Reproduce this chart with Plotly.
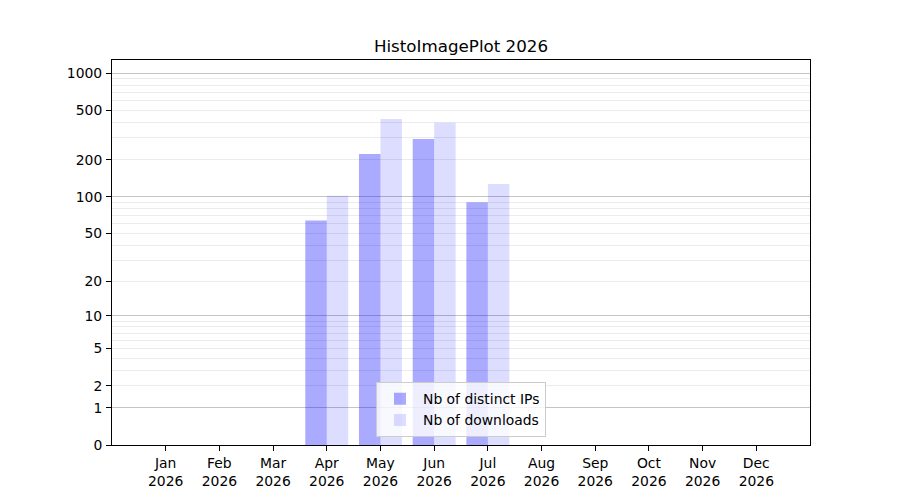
import numpy as np
import plotly.graph_objs as go

# monthly stats
months = ["Jan", "Feb", "Mar", "Apr", "May", "Jun", "Jul", "Aug", "Sep", "Oct", "Nov", "Dec"]
year = "2026"
distinct_ips = [0, 0, 0, 64, 222, 294, 90, 0, 0, 0, 0, 0]
downloads = [0, 0, 0, 102, 427, 398, 127, 0, 0, 0, 0, 0]

y_labels = [0, 1, 2, 5, 10, 20, 50, 100, 200, 500, 1000]
y_major = [1, 10, 100, 1000]
y_minor = [m * d for d in (1, 10, 100) for m in range(2, 10)]
y_top = 1280


def tr(v):
    # log(1 + x) scale, so that 0 sits on the axis
    return np.log10(1 + np.asarray(v, dtype=float))


x_labels = [m + "<br>" + year for m in months]
font = dict(family="DejaVu Sans", size=13.9, color="black")

ip_bars = go.Bar(x=x_labels, y=tr(distinct_ips), name="Nb of distinct IPs",
                 marker=dict(color="rgba(0,0,255,0.333)", line=dict(width=0)),
                 offset=-0.4, width=0.4)
dl_bars = go.Bar(x=x_labels, y=tr(downloads), name="Nb of downloads", yaxis="y2",
                 marker=dict(color="rgba(0,0,255,0.133)", line=dict(width=0)),
                 offset=0, width=0.4)

fig = go.Figure(data=[ip_bars, dl_bars])
# page body has an 8px margin, so margins are shifted to compensate
fig.update_layout(
    width=900, height=500,
    margin=dict(l=104, r=98, t=52, b=63),
    paper_bgcolor="white", plot_bgcolor="white",
    font=font,
    barmode="overlay",
    title=dict(text="HistoImagePlot 2026", x=453 / 900, xanchor="center",
               y=1 - 38 / 500, yanchor="middle", yref="container",
               font=dict(family="DejaVu Sans", size=16.7, color="black")),
    xaxis=dict(type="category", range=[-1, 12], tickmode="array", tickvals=x_labels,
               ticks="outside", ticklen=5, tickcolor="black", showgrid=False,
               showline=True, linecolor="black", linewidth=1.1, mirror=True,
               zeroline=False, tickfont=font, ticklabelstandoff=0),
    yaxis=dict(range=[0, float(tr(y_top))], tickmode="array", tickvals=tr(y_major),
               showticklabels=False, ticks="", showgrid=True, gridcolor="#c4c4c4",
               gridwidth=1, showline=True, linecolor="black", linewidth=1.1, mirror=True,
               zeroline=False,
               minor=dict(tickmode="array", tickvals=tr(y_minor), showgrid=True,
                          gridcolor="#ebebeb", gridwidth=1, ticks="")),
    yaxis2=dict(overlaying="y", side="left", range=[0, float(tr(y_top))],
                tickmode="array", tickvals=tr(y_labels), ticktext=[str(v) for v in y_labels],
                ticks="outside", ticklen=5, tickcolor="black", showgrid=False,
                showline=False, zeroline=False, tickfont=font, ticklabelstandoff=1),
    legend=dict(x=0.5, xanchor="center", y=0.02, yanchor="bottom",
                bgcolor="rgba(255,255,255,0.8)", bordercolor="#cccccc", borderwidth=1,
                font=font, tracegroupgap=0, itemwidth=36),
    showlegend=True,
)

fig.write_html("out.html")
